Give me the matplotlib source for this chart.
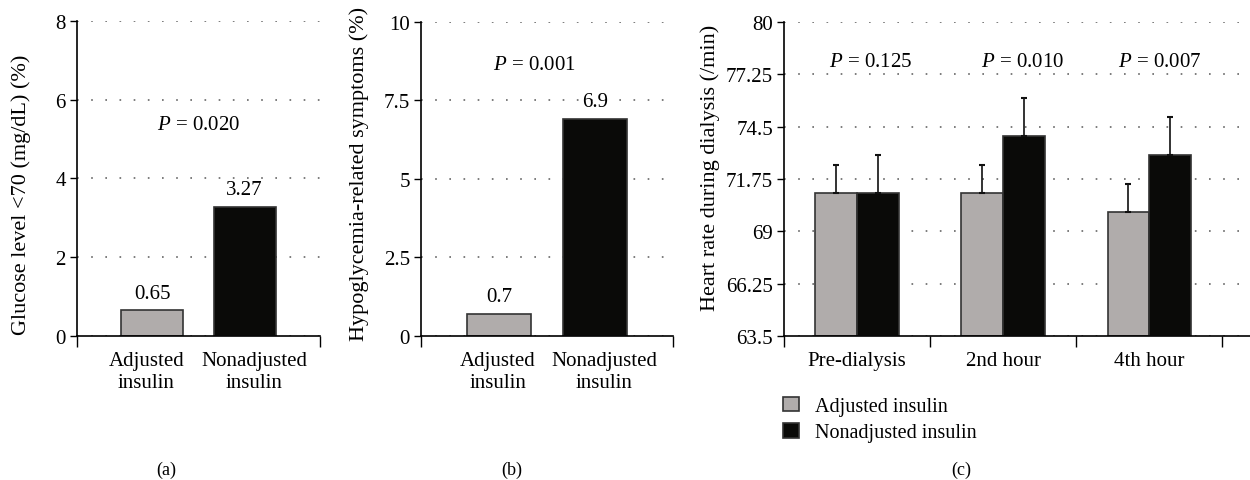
import numpy as np
import matplotlib.pyplot as plt

plt.rcParams['font.family'] = ['Liberation Serif', 'DejaVu Serif']
plt.rcParams['mathtext.fontset'] = 'custom'
plt.rcParams['mathtext.it'] = 'Liberation Serif:italic'
plt.rcParams['mathtext.rm'] = 'Liberation Serif'

groups = ['Adjusted\ninsulin', 'Nonadjusted\ninsulin']
glucose = [0.65, 3.27]
hypo = [0.7, 6.9]

times = ['Pre-dialysis', '2nd hour', '4th hour']
hr_adj = [71.0, 71.0, 70.0]
hr_adj_err = [1.5, 1.5, 1.5]
hr_non = [71.0, 74.0, 73.0]
hr_non_err = [2.0, 2.0, 2.0]
p_hr = ['0.125', '0.010', '0.007']

gray = '#b0acab'
black = '#0a0a08'
edge = '#333333'
fs = 15
fs_lab = 16

fig = plt.figure(figsize=(12.5, 4.81), dpi=100)


def style(ax):
    ax.spines['top'].set_visible(False)
    ax.spines['right'].set_visible(False)
    ax.spines['left'].set_linewidth(1.2)
    ax.spines['bottom'].set_linewidth(1.2)
    ax.yaxis.grid(True, color='#666666', linestyle=(0, (1, 7.5)), linewidth=1.2)
    ax.set_axisbelow(True)
    ax.tick_params(axis='y', direction='out', length=5, width=1, labelsize=fs, pad=3)
    ax.tick_params(axis='x', which='major', direction='out', length=8, width=1, labelbottom=False)
    ax.tick_params(axis='x', which='minor', length=0, labelsize=fs, pad=11)


def two_bar(ax, vals, ymax, yticks, ylab, ptxt, px, py, lab_pos, ylab_xy):
    pos = [0.31, 0.69]
    bars = ax.bar(pos, vals, width=0.255, color=[gray, black], edgecolor=edge, linewidth=1.2)
    for b, v in zip(bars, vals):
        ax.text(b.get_x() + b.get_width() / 2, v + ymax * 0.025, f'{v:g}', ha='center', va='bottom', fontsize=fs)
    ax.set_xlim(0, 1)
    ax.set_ylim(0, ymax)
    ax.set_yticks(yticks)
    ax.set_yticklabels([f'{t:g}' for t in yticks])
    ax.set_xticks([0, 1])
    ax.set_xticks(lab_pos, minor=True)
    ax.set_xticklabels(groups, minor=True, linespacing=1.2)
    ax.set_ylabel(ylab, fontsize=fs_lab)
    ax.yaxis.set_label_coords(*ylab_xy)
    ax.text(px, py, r'$P$ = ' + ptxt, ha='center', va='center', fontsize=fs)
    style(ax)


ax1 = fig.add_axes([0.0616, 0.2994, 0.1944, 0.6549])
two_bar(ax1, glucose, 8, [0, 2, 4, 6, 8], 'Glucose level <70 (mg/dL) (%)', '0.020', 0.5, 5.38,
        [0.285, 0.728], (-0.19, 0.45))

ax2 = fig.add_axes([0.3368, 0.2994, 0.2016, 0.6528])
two_bar(ax2, hypo, 10, [0, 2.5, 5, 7.5, 10], 'Hypoglycemia-related symptoms (%)', '0.001', 0.45, 8.66,
        [0.306, 0.726], (-0.205, 0.52))

ax3 = fig.add_axes([0.6272, 0.2994, 0.3728, 0.6528])
x = np.arange(len(times))
w = 0.285
base = 63.5
ax3.bar(x - w / 2, np.array(hr_adj) - base, bottom=base, width=w, color=gray, edgecolor=edge,
        linewidth=1.2, label='Adjusted insulin')
ax3.bar(x + w / 2, np.array(hr_non) - base, bottom=base, width=w, color=black, edgecolor=edge,
        linewidth=1.2, label='Nonadjusted insulin')
ax3.errorbar(x - w / 2, hr_adj, yerr=[np.zeros(3), hr_adj_err], fmt='none', ecolor='#111111',
             elinewidth=1.2, capsize=2.5, capthick=1.5)
ax3.errorbar(x + w / 2, hr_non, yerr=[np.zeros(3), hr_non_err], fmt='none', ecolor='#111111',
             elinewidth=1.2, capsize=2.5, capthick=1.5)
for xi, p, dx in zip(x, p_hr, [0.09, 0.13, 0.07]):
    ax3.text(xi + dx, 77.9, r'$P$ = ' + p, ha='center', va='center', fontsize=fs)
ax3.set_ylim(63.5, 80)
yt = [63.5, 66.25, 69, 71.75, 74.5, 77.25, 80]
ax3.set_yticks(yt)
ax3.set_yticklabels([f'{t:g}' for t in yt])
ax3.set_xlim(-0.5, 2.69)
ax3.set_xticks([-0.5, 0.5, 1.5, 2.5])
ax3.set_xticks(x, minor=True)
ax3.set_xticklabels(times, minor=True)
ax3.set_ylabel('Heart rate during dialysis (/min)', fontsize=fs_lab)
ax3.yaxis.set_label_coords(-0.138, 0.54)
style(ax3)
ax3.legend(loc='upper left', bbox_to_anchor=(-0.04, -0.135), frameon=False, fontsize=14.5,
           handlelength=0.75, handleheight=0.75, handletextpad=0.8, labelspacing=0.35)

fig.text(166 / 1250, 1 - 470 / 481, '(a)', ha='center', va='center', fontsize=13)
fig.text(512 / 1250, 1 - 470 / 481, '(b)', ha='center', va='center', fontsize=13)
fig.text(961 / 1250, 1 - 470 / 481, '(c)', ha='center', va='center', fontsize=13)

fig.savefig('out.png', dpi=100)
